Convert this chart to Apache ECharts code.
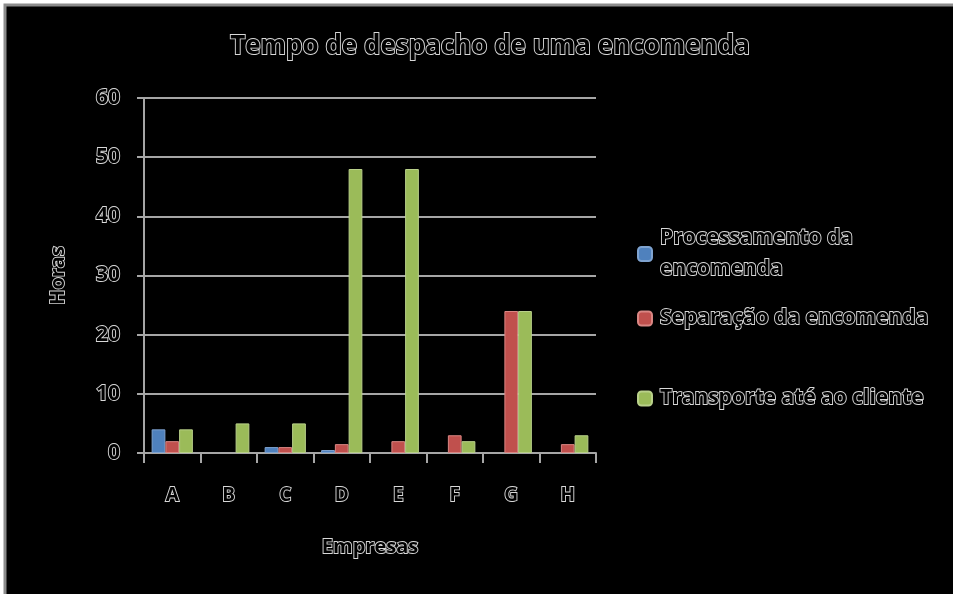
<!DOCTYPE html>
<html>
<head>
<meta charset="utf-8">
<script src="https://cdn.jsdelivr.net/npm/echarts@6/dist/echarts.min.js"></script>
<style>
html,body{margin:0;padding:0;background:#ffffff;}
#c{width:953px;height:594px;}
</style>
</head>
<body>
<div id="c"></div>
<script>
var categories = ['A','B','C','D','E','F','G','H'];
var processamento = [4, null, 1, 0.5, null, null, null, null];
var separacao = [2, null, 1, 1.5, 2, 3, 24, 1.5];
var transporte = [4, 5, 5, 48, 48, 2, 24, 3];
var seriesNames = ['Processamento da\nencomenda', 'Separação da encomenda', 'Transporte até ao cliente'];
var yTicks = [0, 10, 20, 30, 40, 50, 60];

var FONT = 'Open Sans';
var outline = {color:'#000', textBorderColor:'#d8d8d8', textBorderWidth:1.8, fontFamily:FONT, fontWeight:'bold'};
function txt(extra){ return Object.assign({}, outline, extra); }

var chart = echarts.init(document.getElementById('c'));
var colors = ['#4F81BD','#C0504D','#9BBB59'];
var borders = ['#7FA3D0','#D98683','#B9D08A'];
var dataArr = [processamento, separacao, transporte];

var series = dataArr.map(function(d,i){
  return {
    name: seriesNames[i], type:'bar', data:d,
    barGap:'0%', barCategoryGap:'27%',
    itemStyle:{color:colors[i], borderColor:borders[i], borderWidth:1},
    emphasis:{disabled:true}
  };
});

var legendTops = [218, 298, 378];
var legends = seriesNames.map(function(n,i){
  return {
    data:[n], orient:'vertical', left:632, top:legendTops[i],
    itemWidth:14, itemHeight:14, itemGap:0,
    textStyle: txt({fontSize:21, lineHeight:31, padding:[0,0,0,3]}),
    selectedMode:false
  };
});

chart.setOption({
  animation:false,
  backgroundColor:'#ffffff',
  color:colors,
  graphic:[{type:'rect', z:-10, shape:{x:5,y:5,width:1000,height:700},
    style:{fill:'#000', stroke:'#8c8c8c', lineWidth:3}}],
  title:{text:'Tempo de despacho de uma encomenda', left:485, textAlign:'center', top:29,
    textStyle: txt({fontSize:26})},
  legend: legends,
  grid:{left:144, top:98, right:357, bottom:141, containLabel:false},
  xAxis:{type:'category', data:categories,
    name:'Empresas', nameLocation:'middle', nameGap:84,
    nameTextStyle: txt({fontSize:20}),
    axisLine:{lineStyle:{color:'#a6a6a6', width:2}},
    axisTick:{show:true, length:10, lineStyle:{color:'#a6a6a6', width:2}},
    axisLabel: txt({fontSize:19, margin:33})
  },
  yAxis:{type:'value', min:0, max:60, interval:10,
    name:'Horas', nameLocation:'middle', nameGap:76, nameRotate:90,
    nameTextStyle: txt({fontSize:20}),
    axisLine:{show:true, lineStyle:{color:'#a6a6a6', width:2}},
    axisTick:{show:true, length:7, lineStyle:{color:'#a6a6a6', width:2}},
    axisLabel: txt({fontSize:21, margin:24, formatter:function(v){return yTicks.indexOf(v)>=0?String(v):'';}}),
    splitLine:{lineStyle:{color:'#a6a6a6', width:2}}
  },
  series: series
});
</script>
</body>
</html>
